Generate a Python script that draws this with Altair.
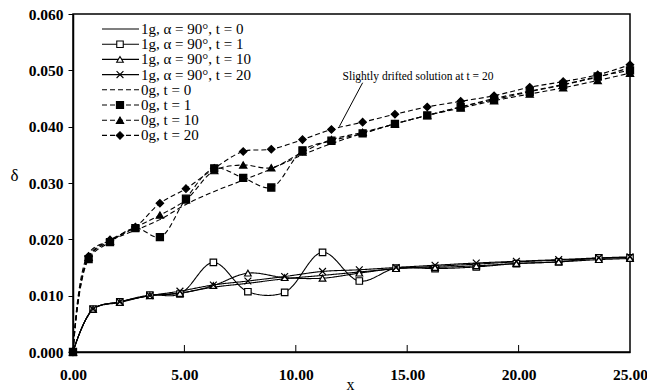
import altair as alt
import pandas as pd

# ---- data ----
series_names = [
    "1g, α = 90°, t = 0",
    "1g, α = 90°, t = 1",
    "1g, α = 90°, t = 10",
    "1g, α = 90°, t = 20",
    "0g, t = 0",
    "0g, t = 1",
    "0g, t = 10",
    "0g, t = 20",
]

x_1g = [0, 0.9, 2.1, 3.45, 4.8, 6.3, 7.85, 9.5, 11.2, 12.85, 14.5, 16.25, 18.1, 19.9, 21.8, 23.6, 25.0]
y_1g_t0 = [0, 0.0076, 0.0089, 0.0100, 0.0105, 0.0115, 0.0122, 0.0130, 0.0136, 0.0142, 0.0148, 0.0152, 0.0156, 0.0160, 0.0163, 0.0166, 0.0168]
y_1g_t1 = [0, 0.0076, 0.0089, 0.0101, 0.0103, 0.0159, 0.0107, 0.0106, 0.0177, 0.0126, 0.0149, 0.0148, 0.0151, 0.0157, 0.0160, 0.0167, 0.0167]
y_1g_t10 = [0, 0.0076, 0.0088, 0.0100, 0.0104, 0.0118, 0.0140, 0.0132, 0.0131, 0.0140, 0.0148, 0.0150, 0.0153, 0.0157, 0.0160, 0.0164, 0.0166]
y_1g_t20 = [0, 0.0076, 0.0089, 0.0100, 0.0108, 0.0119, 0.0126, 0.0134, 0.0143, 0.0146, 0.0150, 0.0154, 0.0158, 0.0161, 0.0164, 0.0167, 0.0169]

x_0g = [0, 0.7, 1.66, 2.8, 3.9, 5.07, 6.34, 7.64, 8.9, 10.3, 11.6, 13.0, 14.45, 15.9, 17.4, 18.9, 20.5, 22.0, 23.55, 25.0]
y_0g_t0 = [0, 0.0175, 0.0198, 0.0216, 0.0235, 0.0262, 0.0285, 0.0305, 0.0325, 0.0350, 0.0370, 0.0388, 0.0405, 0.0420, 0.0435, 0.0450, 0.0463, 0.0475, 0.0488, 0.0505]
y_0g_t1 = [0, 0.0165, 0.0195, 0.0220, 0.0204, 0.0272, 0.0326, 0.0309, 0.0292, 0.0358, 0.0375, 0.0388, 0.0405, 0.0420, 0.0435, 0.0448, 0.0462, 0.0474, 0.0489, 0.0500]
y_0g_t10 = [0, 0.0168, 0.0197, 0.0221, 0.0243, 0.0270, 0.0322, 0.0332, 0.0327, 0.0355, 0.0377, 0.0390, 0.0405, 0.0420, 0.0433, 0.0446, 0.0458, 0.0469, 0.0482, 0.0495]
y_0g_t20 = [0, 0.0170, 0.0199, 0.0222, 0.0264, 0.0290, 0.0326, 0.0356, 0.0360, 0.0377, 0.0395, 0.0408, 0.0422, 0.0435, 0.0445, 0.0455, 0.0470, 0.0480, 0.0492, 0.0510]

x_ticks = [0, 5, 10, 15, 20, 25]
y_ticks = [0.0, 0.01, 0.02, 0.03, 0.04, 0.05, 0.06]

note_text = "Slightly drifted solution at t = 20"
note_xy = (12.1, 0.0488)
arrow_from = (13.0, 0.0478)
arrow_to = (11.95, 0.0400)

# ---- build tables ----
rows = []
for name, xs_, ys_ in [
    (series_names[0], x_1g, y_1g_t0),
    (series_names[1], x_1g, y_1g_t1),
    (series_names[2], x_1g, y_1g_t10),
    (series_names[3], x_1g, y_1g_t20),
    (series_names[4], x_0g, y_0g_t0),
    (series_names[5], x_0g, y_0g_t1),
    (series_names[6], x_0g, y_0g_t10),
    (series_names[7], x_0g, y_0g_t20),
]:
    for xv, yv in zip(xs_, ys_):
        rows.append({"series": name, "x": xv, "y": yv})
df = pd.DataFrame(rows)

leg = pd.DataFrame({"series": series_names, "i": list(range(len(series_names)))})

dash_range = [[1, 0]] * 4 + [[5, 3]] * 4
width_range = [1.1] * 4 + [1.6] * 4
cross_path = "M-1,-1L1,1M-1,1L1,-1"
shape_range = ["square", "square", "triangle-up", cross_path, "square", "square", "triangle-up", "diamond"]
fill_range = ["white", "white", "white", "white", "black", "black", "black", "black"]
size_range = [40, 55, 40, 50, 70, 70, 50, 40]

dash_scale = alt.Scale(domain=series_names, range=dash_range)
sw_scale = alt.Scale(domain=series_names, range=width_range)
shape_scale = alt.Scale(domain=series_names, range=shape_range)
fill_scale = alt.Scale(domain=series_names, range=fill_range)
size_scale = alt.Scale(domain=series_names, range=size_range)

xs = alt.Scale(domain=[0, 25], nice=False)
ys = alt.Scale(domain=[0, 0.06], nice=False)

FONT = "Liberation Serif"

x_enc = alt.X(
    "x:Q", scale=xs,
    axis=alt.Axis(values=x_ticks, format=".2f", ticks=False, labelPadding=15,
                  labelFlush=False,
                  title="x", titleX=277, titleY=24, titleAlign="center",
                  titleFontSize=16, titleFont=FONT, titleFontWeight="normal"),
)
y_enc = alt.Y(
    "y:Q", scale=ys,
    axis=alt.Axis(values=y_ticks, format=".3f", tickSize=5, labelPadding=5,
                  labelFlush=False,
                  title="δ", titleAngle=0, titleX=-59, titleY=161,
                  titleAlign="center", titleBaseline="middle",
                  titleFontSize=17, titleFont=FONT, titleFontWeight="normal"),
)

base = alt.Chart(df)

lines = base.mark_line(interpolate="catmull-rom", color="black").encode(
    x=x_enc, y=y_enc,
    detail="series:N",
    strokeDash=alt.StrokeDash("series:N", scale=dash_scale, legend=None),
    strokeWidth=alt.StrokeWidth("series:N", scale=sw_scale, legend=None),
)

pts = base.transform_filter(
    (alt.datum.series != series_names[0]) & (alt.datum.series != series_names[4])
).mark_point(stroke="black", strokeWidth=1.2, opacity=1).encode(
    x="x:Q", y="y:Q",
    shape=alt.Shape("series:N", scale=shape_scale, legend=None),
    fill=alt.Fill("series:N", scale=fill_scale, legend=None),
    size=alt.Size("series:N", scale=size_scale, legend=None),
)

tick_df = pd.DataFrame({"x": x_ticks[1:-1]})
inner_ticks = alt.Chart(tick_df).mark_rule(color="black", strokeWidth=1).encode(
    x="x:Q", y=alt.value(338), y2=alt.value(331)
)

# legend (custom, inside plot)
leg_base = alt.Chart(leg).transform_calculate(ly="15 + 15.2 * datum.i")
leg_lines = leg_base.mark_rule(color="black").encode(
    x=alt.value(29), x2=alt.value(66),
    y=alt.Y("ly:Q", scale=None),
    strokeDash=alt.StrokeDash("series:N", scale=dash_scale, legend=None),
    strokeWidth=alt.StrokeWidth("series:N", scale=sw_scale, legend=None),
)
leg_pts = leg_base.transform_filter(
    (alt.datum.series != series_names[0]) & (alt.datum.series != series_names[4])
).mark_point(stroke="black", strokeWidth=1.1, opacity=1).encode(
    x=alt.value(47),
    y=alt.Y("ly:Q", scale=None),
    shape=alt.Shape("series:N", scale=shape_scale, legend=None),
    fill=alt.Fill("series:N", scale=fill_scale, legend=None),
    size=alt.Size("series:N", scale=size_scale, legend=None),
)
leg_text = leg_base.mark_text(align="left", baseline="middle", font=FONT,
                              fontSize=15, color="black").encode(
    x=alt.value(68),
    y=alt.Y("ly:Q", scale=None),
    text="series:N",
)

note_df = pd.DataFrame({"x": [note_xy[0]], "y": [note_xy[1]], "t": [note_text]})
note = alt.Chart(note_df).mark_text(align="left", baseline="middle", font=FONT,
                                    fontSize=11.5, color="black").encode(
    x="x:Q", y="y:Q", text="t:N"
)
arrow_df = pd.DataFrame({"x": [arrow_from[0]], "y": [arrow_from[1]],
                         "x2": [arrow_to[0]], "y2": [arrow_to[1]]})
arrow = alt.Chart(arrow_df).mark_rule(color="black", strokeWidth=1).encode(
    x="x:Q", y="y:Q", x2="x2:Q", y2="y2:Q"
)

chart = alt.layer(
    lines, pts, inner_ticks, arrow, note, leg_lines, leg_pts, leg_text
).resolve_scale(
    strokeDash="shared", shape="shared", fill="shared", size="shared"
).properties(
    width=557, height=338,
    autosize=alt.AutoSizeParams(type="none"),
    padding={"left": 73, "top": 14, "right": 17, "bottom": 39},
    background="white",
).configure_view(
    stroke="black", strokeWidth=1.5
).configure_axis(
    grid=False, domainColor="black", domainWidth=1.5, tickColor="black",
    labelColor="black", titleColor="black",
    labelFont=FONT, labelFontSize=15.5, labelFontWeight="bold",
)

chart.save("out.html", embed_options={"renderer": "svg", "actions": False})
